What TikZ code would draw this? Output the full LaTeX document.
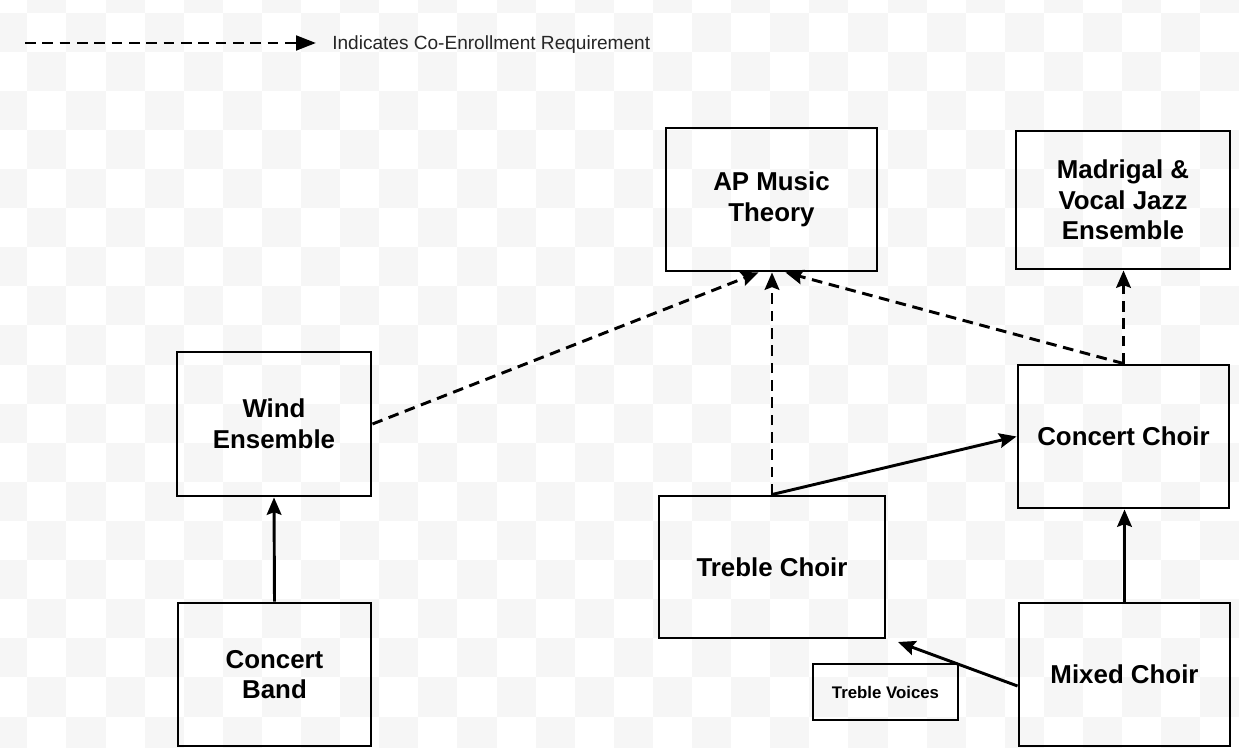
\documentclass[tikz,border=0pt]{standalone}
\usepackage{fontspec}
\setmainfont{Liberation Sans}
\usetikzlibrary{arrows.meta,calc}
\definecolor{checkgray}{RGB}{246,246,246}
\tikzset{
  box/.style={draw=black, line width=2.2pt, inner sep=0pt, align=center,
    font=\fontsize{19.4}{23}\selectfont\bfseries, text=black},
  conn/.style={line width=2.2pt, draw=black,
    -{Stealth[length=13pt,width=11pt,inset=2pt]}},
  coreq/.style={conn, dash pattern=on 8pt off 5pt},
}
\begin{document}
\begin{tikzpicture}[x=0.75pt,y=-0.75pt]
\useasboundingbox (0,0) rectangle (1239,748);
% checkerboard background
\fill[white] (0,0) rectangle (1239,748);
\begin{scope}
\clip (0,0) rectangle (1239,748);
\foreach \i in {-1,...,31}{
  \foreach \j in {-1,...,18}{
    \pgfmathtruncatemacro\k{\i+\j+100}
    \ifodd\k
      \fill[checkgray] ({27.3+\i*39.1},{12.7+\j*39.1}) rectangle ++(39.1,39.1);
    \fi
  }
}
\end{scope}

% legend
\coordinate (legA) at (25,43);
\coordinate (legB) at (316,43);
\draw[line width=2.2pt, dash pattern=on 8pt off 5pt,
  -{Triangle[length=15pt,width=11pt]}] (legA) -- (legB);
\node[anchor=west, inner sep=0pt, text=black!85,
  font=\fontsize{14.3}{16}\selectfont] (legtext) at (332,45)
  {Indicates Co-Enrollment Requirement};

% boxes
\node[box, minimum width=158.25pt, minimum height=107.25pt] (AP) at (771.5,199.5) {AP Music\\Theory};
\node[box, minimum width=160.5pt, minimum height=103.5pt] (Mad) at (1123,200) {Madrigal \&\\Vocal Jazz\\Ensemble};
\node[box, minimum width=145.5pt, minimum height=108pt] (Wind) at (274,424) {Wind\\Ensemble};
\node[box, minimum width=158.25pt, minimum height=107.25pt] (CChoir) at (1123.5,436.5) {Concert Choir};
\node[box, minimum width=169.5pt, minimum height=106.5pt] (Treble) at (772,567) {Treble Choir};
\node[box, minimum width=144.75pt, minimum height=107.25pt] (Band) at (274.5,674.5) {Concert\\Band};
\node[box, minimum width=158.25pt, minimum height=107.25pt] (Mixed) at (1124.5,674.5) {Mixed Choir};
\node[box, minimum width=108.75pt, minimum height=42pt,
  font=\fontsize{12.6}{15}\selectfont\bfseries] (TV) at (885.5,692) {Treble Voices};

% solid prerequisite arrows
\draw[conn] (Band.north) -- (Wind.south);
\draw[conn] (Mixed.north) -- (CChoir.south -| Mixed.north);
\draw[conn] (Treble.north) -- (CChoir.west);
\coordinate (tvEnd) at (898,642);
\draw[conn] ($(Mixed.west)+(0,11.5)$) -- (tvEnd);

% co-enrollment arrows
\draw[coreq] (Wind.east) -- ($(AP.south)+(-13,0)$);
\draw[coreq] (Treble.north) -- (AP.south -| Treble.north);
\draw[coreq] (CChoir.north) -- ($(AP.south)+(14,0)$);
\draw[coreq] (CChoir.north) -- (Mad.south -| CChoir.north);
\end{tikzpicture}
\end{document}
